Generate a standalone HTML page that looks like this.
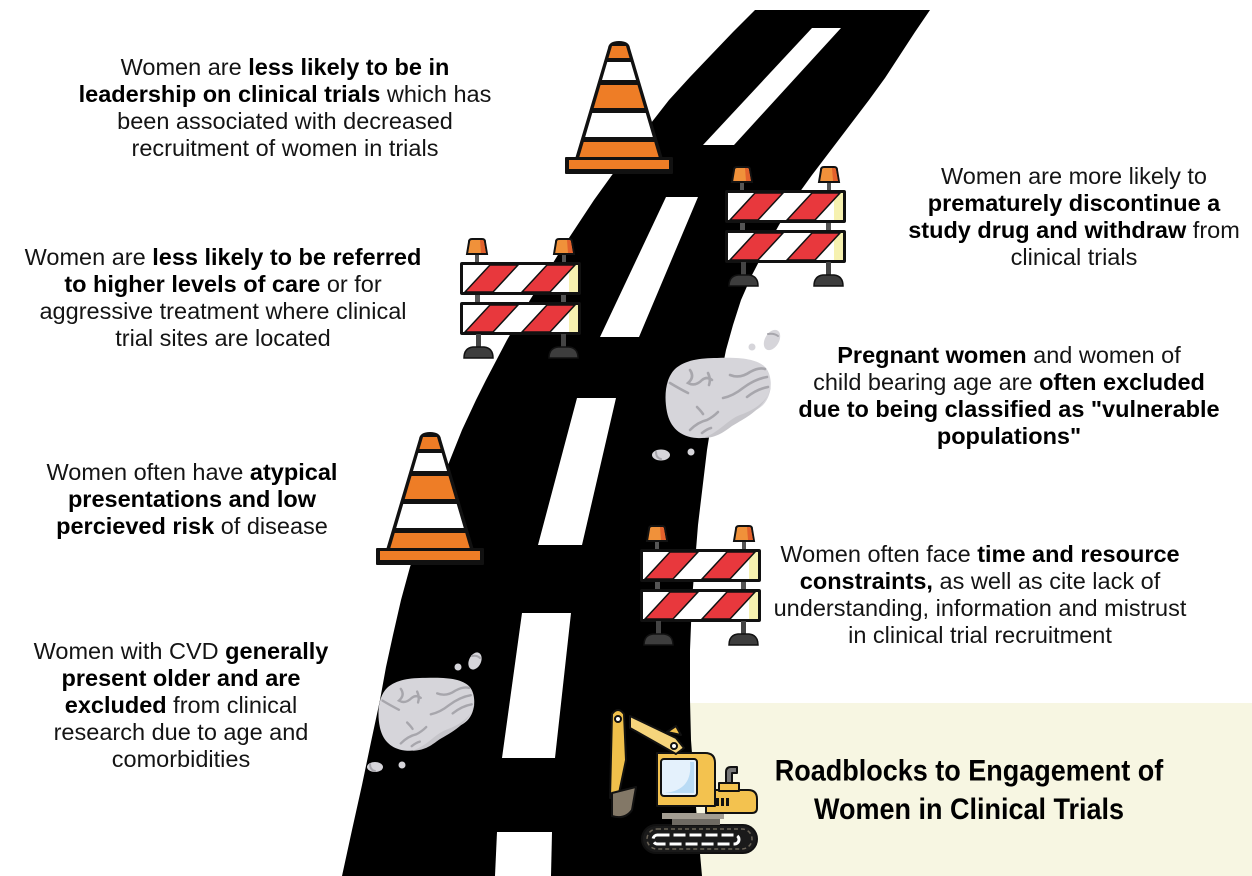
<!DOCTYPE html>
<html>
<head>
<meta charset="utf-8">
<style>
html,body{margin:0;padding:0;background:#fff;}
body{width:1252px;height:876px;position:relative;overflow:hidden;}
.t{position:absolute;font-family:"Liberation Sans",sans-serif;font-size:23.5px;line-height:27px;color:#141414;text-align:center;white-space:nowrap;}
.t b{font-weight:bold;color:#000;}
.title{position:absolute;font-family:"Liberation Sans",sans-serif;font-size:27px;line-height:36px;font-weight:bold;color:#000;text-align:center;white-space:nowrap;transform:scale(1,1.08);transform-origin:50% 50%;}
</style>
</head>
<body>
<svg width="1252" height="876" viewBox="0 0 1252 876" style="position:absolute;left:0;top:0">
<defs>
  <clipPath id="cclip"><path d="M-7,4 L7,4 L40,116 L-40,116 Z"/></clipPath>
  <clipPath id="bclip"><rect x="3" y="3" width="115" height="27"/></clipPath>
  <g id="cone">
    <path d="M-11,6 Q-10,-1 0,-1 Q10,-1 11,6 L44,117 L-44,117 Z" fill="#111"/>
    <g clip-path="url(#cclip)">
      <rect x="-50" y="3" width="100" height="13" fill="#ee7d26"/>
      <rect x="-50" y="20" width="100" height="18" fill="#fff"/>
      <rect x="-50" y="43" width="100" height="23" fill="#ee7d26"/>
      <rect x="-50" y="71" width="100" height="24" fill="#fff"/>
      <rect x="-50" y="100" width="100" height="17" fill="#ee7d26"/>
    </g>
    <rect x="-54" y="115" width="108" height="17" rx="1" fill="#111"/>
    <rect x="-50" y="118" width="100" height="9" fill="#ee7d26"/>
  </g>
  <g id="board">
    <rect x="0" y="0" width="121" height="33" rx="2" fill="#111"/>
    <rect x="3" y="3" width="115" height="27" fill="#fff"/>
    <rect x="109" y="3" width="9" height="27" fill="#f6f1b0"/>
    <g clip-path="url(#bclip)">
      <polygon points="5,30 33,30 58,3 30,3" fill="#e8383d" stroke="#111" stroke-width="1.5"/>
      <polygon points="62,30 90,30 115,3 87,3" fill="#e8383d" stroke="#111" stroke-width="1.5"/>
    </g>
  </g>
  <g id="lamp">
    <rect x="8" y="15" width="4" height="9" fill="#555"/>
    <path d="M0,16 L2,4 Q2,1 5,1 L15,1 Q18,1 18,4 L20,16 Z" fill="#f0913a" stroke="#111" stroke-width="2"/>
    <path d="M13,2 L15,2 Q17,2 17,4 L19,15 L14,15 Z" fill="#e2612c"/>
  </g>
  <g id="foot">
    <rect x="13" y="96" width="5" height="14" fill="#444"/>
    <path d="M1,120 Q1,110 10,109 L21,109 Q30,110 30,120 Z" fill="#3d3d3d" stroke="#111" stroke-width="1.5"/>
  </g>
  <g id="barr">
    <use href="#lamp" x="7" y="0"/>
    <use href="#lamp" x="94" y="0"/>
    <rect x="15" y="56" width="5" height="9" fill="#555"/>
    <rect x="101" y="56" width="5" height="9" fill="#555"/>
    <use href="#board" x="0" y="24"/>
    <use href="#board" x="0" y="64"/>
    <use href="#foot" x="3" y="0"/>
    <use href="#foot" x="88" y="0"/>
  </g>
  <g id="rock">
    <path d="M52,1 C75,0 92,2 100,10 C108,18 108,38 98,48 C90,56 75,58 65,66 C55,76 45,82 32,81 C15,80 5,70 2,55 C-1,40 0,22 10,12 C20,3 35,1 52,1 Z" fill="#d6d5da"/>
    <path d="M106,30 C104,42 92,52 75,58 C62,63 55,75 38,81 C52,81 60,74 67,69 C80,61 100,52 106,30 Z" fill="#c6c5ca"/>
    <g fill="none" stroke="#a7a6ac" stroke-width="2.6" stroke-linecap="round">
      <path d="M5,26 Q15,32 23,36"/>
      <path d="M25,13 Q30,20 23,26 Q30,30 37,23 Q42,19 47,23"/>
      <path d="M43,16 Q46,22 44,28"/>
      <path d="M65,18 Q75,22 85,15 Q94,10 100,12"/>
      <path d="M58,41 Q68,39 78,31 Q90,22 102,20"/>
      <path d="M82,40 Q92,32 103,30"/>
      <path d="M32,50 Q36,54 38,57"/>
      <path d="M25,73 Q33,65 42,63 Q48,60 53,55"/>
      <path d="M37,76 Q42,72 46,71"/>
    </g>
  </g>
</defs>

<!-- beige title box -->
<rect x="686" y="703" width="566" height="173" fill="#f7f6e2"/>

<!-- road -->
<polygon fill="#000" points="930,10 915,32 900,55 885,78 869,100 850,125 831,150 812,175 794,200 779,225 765,250 752,275 741,300 733,325 726,350 721,375 716,400 711,425 707,450 704,475 701,500 698,525 696,550 694,575 692,600 691,625 690,650 690,700 691,740 694,780 697,820 702,876 342,876 352,830 362,785 371,742 380,700 386,667 393,635 401,600 410,567 423,530 436,497 450,460 462,430 476,400 486,380 507,340 530,300 561,250 594,200 630,150 669,100 690,77 711,55 733,32 755,10"/>

<!-- dashes -->
<g fill="#fff">
  <polygon points="812,28 841,28 734,145 703,145"/>
  <polygon points="666,197 698,197 639,337 600,337"/>
  <polygon points="577,398 616,398 582,545 538,545"/>
  <polygon points="522,613 571,613 555,758 502,758"/>
  <polygon points="497,832 552,832 551,876 495,876"/>
</g>

<!-- cones -->
<use href="#cone" x="619" y="42"/>
<use href="#cone" x="430" y="433"/>

<!-- barricades -->
<use href="#barr" x="460" y="238"/>
<use href="#barr" x="725" y="166"/>
<use href="#barr" x="640" y="525"/>

<!-- rocks -->
<use href="#rock" transform="translate(665,357)"/>
<use href="#rock" transform="translate(378,677) scale(0.91)"/>
<g fill="#d6d5da">
  <ellipse cx="772" cy="340" rx="7" ry="11" transform="rotate(30 772 340)"/>
  <circle cx="752" cy="347" r="3.5"/>
  <ellipse cx="661" cy="455" rx="9" ry="5.5"/>
  <circle cx="691" cy="452" r="3.5"/>
  <ellipse cx="475" cy="661" rx="6" ry="9" transform="rotate(25 475 661)"/>
  <circle cx="458" cy="667" r="3.5"/>
  <ellipse cx="375" cy="767" rx="8" ry="5"/>
  <circle cx="402" cy="765" r="3.5"/>
</g>
<g fill="none" stroke="#a7a6ac" stroke-width="2" stroke-linecap="round">
  <path d="M768,334 Q774,333 778,336"/>
  <path d="M656,452 Q656,458 661,459"/>
  <path d="M472,656 Q477,655 480,658"/>
  <path d="M370,764 Q370,770 375,771"/>
</g>

<!-- excavator -->
<g stroke="#111" stroke-width="2" stroke-linejoin="round">
  <rect x="642" y="825" width="115" height="28" rx="14" fill="#1a1a1a"/>
  <rect x="647" y="829" width="105" height="20" rx="10" fill="none" stroke="#6b6458" stroke-dasharray="4 3" stroke-width="1.5"/>
  <rect x="653" y="835" width="86" height="9" rx="4.5" fill="none" stroke="#fff" stroke-width="3" stroke-dasharray="12 4"/>
  <rect x="662" y="813" width="62" height="6" fill="#a39d92" stroke="none"/>
  <rect x="672" y="819" width="48" height="6" fill="#6e6a63" stroke="none"/>
  <path d="M706,790 L748,790 Q757,790 757,799 L757,808 Q757,813 752,813 L706,813 Z" fill="#f3c24f"/>
  <rect x="716" y="798" width="3" height="8" fill="#111" stroke="none"/>
  <rect x="721" y="798" width="3" height="8" fill="#111" stroke="none"/>
  <rect x="726" y="798" width="3" height="8" fill="#111" stroke="none"/>
  <rect x="719" y="783" width="20" height="8" fill="#f3c24f"/>
  <path d="M726,783 L726,772 Q726,767 731,767 L737,767 L737,773 L732,773 L732,783 Z" fill="#777"/>
  <path d="M657,753 L705,753 Q715,753 715,763 L715,806 L657,806 Z" fill="#f3c24f"/>
  <rect x="661" y="759" width="36" height="37" rx="3" fill="#e4f1fc"/>
  <path d="M690,762 Q693,790 665,793 L694,793 L694,762 Z" fill="#b9dbf5" stroke="none"/>
  <path d="M612,714 Q618,706 624,714 L626,760 L618,798 L610,798 Z" fill="#f0c04b"/>
  <circle cx="618" cy="719" r="3" fill="#fff"/>
  <path d="M630,716 L676,738 L684,748 L676,754 L630,728 Z" fill="#f6d57c"/>
  <path d="M667,732 L676,726 L681,735 Z" fill="#f3c24f"/>
  <circle cx="674" cy="746" r="3" fill="#fff"/>
  <path d="M612,793 L636,787 L632,810 Q625,820 612,816 Z" fill="#837867"/>
</g>
</svg>

<div class="t" style="left:35px;top:54px;width:500px">Women are <b>less likely to be in</b><br><b>leadership on clinical trials</b> which has<br>been associated with decreased<br>recruitment of women in trials</div>

<div class="t" style="left:3px;top:243.5px;width:440px">Women are <b>less likely to be referred</b><br><b>to higher levels of care</b> or for<br>aggressive treatment where clinical<br>trial sites are located</div>

<div class="t" style="left:874px;top:163px;width:400px">Women are more likely to<br><b>prematurely discontinue a</b><br><b>study drug and withdraw</b> from<br>clinical trials</div>

<div class="t" style="left:789px;top:341.5px;width:440px"><b>Pregnant women</b> and women of<br>child bearing age are <b>often excluded</b><br><b>due to being classified as "vulnerable</b><br><b>populations"</b></div>

<div class="t" style="left:12px;top:458.5px;width:360px">Women often have <b>atypical</b><br><b>presentations and low</b><br><b>percieved risk</b> of disease</div>

<div class="t" style="left:1px;top:638px;width:360px">Women with CVD <b>generally</b><br><b>present older and are</b><br><b>excluded</b> from clinical<br>research due to age and<br>comorbidities</div>

<div class="t" style="left:760px;top:541px;width:440px">Women often face <b>time and resource</b><br><b>constraints,</b> as well as cite lack of<br>understanding, information and mistrust<br>in clinical trial recruitment</div>

<div class="title" style="left:719px;top:753.5px;width:500px">Roadblocks to Engagement of<br>Women in Clinical Trials</div>
</body>
</html>
